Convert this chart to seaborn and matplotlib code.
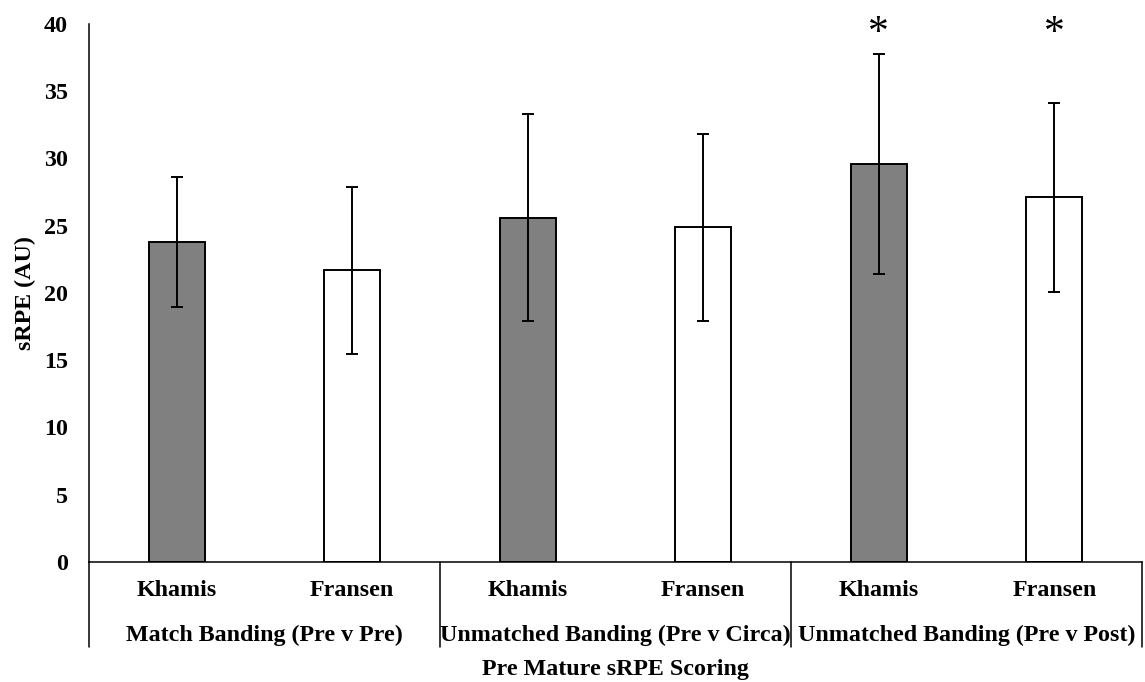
import numpy as np
import pandas as pd
import matplotlib.pyplot as plt
import seaborn as sns

# data
groups = ["Match Banding (Pre v Pre)",
          "Unmatched Banding (Pre v Circa)",
          "Unmatched Banding (Pre v Post)"]
scales = ["Khamis", "Fransen"]
means = [23.8, 21.7, 25.6, 24.9, 29.6, 27.1]
sds = [4.85, 6.2, 7.7, 6.95, 8.2, 7.05]
significant = [False, False, False, False, True, True]

sns.set_theme(style="white")
plt.rcParams["font.family"] = ["Liberation Serif", "DejaVu Serif"]
plt.rcParams["font.weight"] = "bold"
for key in ["text.color", "axes.labelcolor", "xtick.color", "ytick.color"]:
    plt.rcParams[key] = "black"

FS = 17.3

# one row per bar
df = pd.DataFrame({
    "group": np.repeat(groups, len(scales)),
    "scale": scales * len(groups),
    "mean": means,
    "sd": sds,
})
df["slot"] = df["group"] + " | " + df["scale"]

fig = plt.figure(figsize=(11.45, 6.82), dpi=100)
ax = fig.add_axes([0.0777, 0.176, 0.9197, 0.7888])

sns.barplot(data=df, x="slot", y="mean", hue="scale",
            palette={"Khamis": "#808080", "Fransen": "white"},
            dodge=False, width=0.32, edgecolor="black", linewidth=1.4,
            errorbar=None, legend=False, ax=ax)

pos = np.arange(len(df))
ax.errorbar(pos, df["mean"], yerr=df["sd"], fmt="none", ecolor="black",
            elinewidth=1.4, capsize=4.5, capthick=1.4, zorder=5)

ax.set_xlim(-0.5, len(df) - 0.5)
ax.set_ylim(0, 40)
ax.set_yticks(range(0, 41, 5))
ax.tick_params(axis="y", length=0, pad=15, labelsize=FS)
ax.set_xticks(pos)
ax.set_xticklabels(df["scale"], fontsize=FS)
ax.tick_params(axis="x", length=0, pad=13)

for s in ["top", "right"]:
    ax.spines[s].set_visible(False)
for s in ["left", "bottom"]:
    ax.spines[s].set_color("black")
    ax.spines[s].set_linewidth(1.1)

# group dividers and group labels under the category labels
xt = ax.get_xaxis_transform()
n = len(scales)
for b in range(len(groups) + 1):
    xb = b * n - 0.5
    ax.plot([xb, xb], [0, -0.158], color="black", lw=1.1,
            transform=xt, clip_on=False)
for g, name in enumerate(groups):
    ax.text(g * n + (n - 1) / 2, -0.136, name, transform=xt,
            ha="center", va="center", fontsize=FS, fontweight="bold")

# significance markers
for i, sig in enumerate(significant):
    if sig:
        ax.text(pos[i], 0.982, "*", transform=xt, ha="center", va="center",
                fontsize=30, fontweight="normal", clip_on=False)

ax.set_xlabel("Pre Mature sRPE Scoring", fontsize=FS, fontweight="bold")
ax.xaxis.set_label_coords(0.5, -0.181)
ax.set_ylabel("sRPE (AU)", fontsize=FS, fontweight="bold")
ax.yaxis.set_label_coords(-0.05, 0.5)

fig.savefig("out.png", dpi=100)
